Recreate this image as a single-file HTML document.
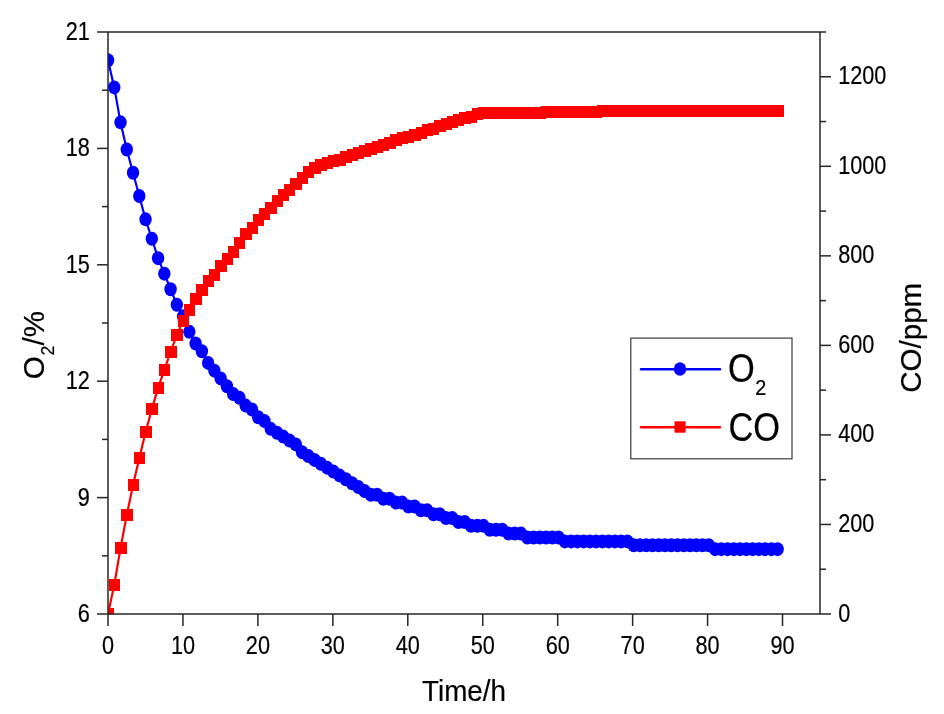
<!DOCTYPE html>
<html lang="en"><head><meta charset="utf-8"><title>O2 and CO versus time</title>
<style>html,body{margin:0;padding:0;background:#fff}svg{display:block}text{font-family:"Liberation Sans",sans-serif;fill:#000;stroke:#000;stroke-width:0.2px}</style>
</head><body>
<svg width="944" height="714" viewBox="0 0 944 714">
<rect width="944" height="714" fill="#ffffff"/>
<defs><clipPath id="plot"><rect x="108.00" y="32.00" width="712.00" height="582.50"/></clipPath></defs>
<g clip-path="url(#plot)">
<polyline points="108.00,60.26 114.26,87.42 120.52,122.34 126.77,149.50 133.03,172.78 139.29,196.06 145.55,219.34 151.81,238.74 158.07,258.14 164.32,273.66 170.58,289.18 176.84,304.70 183.10,316.34 189.36,331.86 195.62,343.50 201.87,351.26 208.13,362.90 214.39,370.66 220.65,378.42 226.91,386.18 233.17,393.94 239.42,397.82 245.68,405.58 251.94,409.46 258.20,417.22 264.46,421.10 270.71,428.86 276.97,432.74 283.23,436.62 289.49,440.50 295.75,444.38 302.01,452.14 308.26,456.02 314.52,459.90 320.78,463.78 327.04,467.66 333.30,471.54 339.56,475.42 345.81,479.30 352.07,483.18 358.33,487.06 364.59,490.94 370.85,494.82 377.10,494.82 383.36,498.70 389.62,498.70 395.88,502.58 402.14,502.58 408.40,506.46 414.65,506.46 420.91,510.34 427.17,510.34 433.43,514.22 439.69,514.22 445.95,518.10 452.20,518.10 458.46,521.98 464.72,521.98 470.98,525.86 477.24,525.86 483.50,525.86 489.75,529.74 496.01,529.74 502.27,529.74 508.53,533.62 514.79,533.62 521.04,533.62 527.30,537.50 533.56,537.50 539.82,537.50 546.08,537.50 552.34,537.50 558.59,537.50 564.85,541.38 571.11,541.38 577.37,541.38 583.63,541.38 589.89,541.38 596.14,541.38 602.40,541.38 608.66,541.38 614.92,541.38 621.18,541.38 627.44,541.38 633.69,545.26 639.95,545.26 646.21,545.26 652.47,545.26 658.73,545.26 664.98,545.26 671.24,545.26 677.50,545.26 683.76,545.26 690.02,545.26 696.28,545.26 702.53,545.26 708.79,545.26 715.05,549.14 721.31,549.14 727.57,549.14 733.83,549.14 740.08,549.14 746.34,549.14 752.60,549.14 758.86,549.14 765.12,549.14 771.38,549.14 777.63,549.14" fill="none" stroke="#0000ff" stroke-width="2.2"/>
<g fill="#0000ff">
<ellipse cx="108.00" cy="60.26" rx="6.2" ry="7"/>
<ellipse cx="114.26" cy="87.42" rx="6.2" ry="7"/>
<ellipse cx="120.52" cy="122.34" rx="6.2" ry="7"/>
<ellipse cx="126.77" cy="149.50" rx="6.2" ry="7"/>
<ellipse cx="133.03" cy="172.78" rx="6.2" ry="7"/>
<ellipse cx="139.29" cy="196.06" rx="6.2" ry="7"/>
<ellipse cx="145.55" cy="219.34" rx="6.2" ry="7"/>
<ellipse cx="151.81" cy="238.74" rx="6.2" ry="7"/>
<ellipse cx="158.07" cy="258.14" rx="6.2" ry="7"/>
<ellipse cx="164.32" cy="273.66" rx="6.2" ry="7"/>
<ellipse cx="170.58" cy="289.18" rx="6.2" ry="7"/>
<ellipse cx="176.84" cy="304.70" rx="6.2" ry="7"/>
<ellipse cx="183.10" cy="316.34" rx="6.2" ry="7"/>
<ellipse cx="189.36" cy="331.86" rx="6.2" ry="7"/>
<ellipse cx="195.62" cy="343.50" rx="6.2" ry="7"/>
<ellipse cx="201.87" cy="351.26" rx="6.2" ry="7"/>
<ellipse cx="208.13" cy="362.90" rx="6.2" ry="7"/>
<ellipse cx="214.39" cy="370.66" rx="6.2" ry="7"/>
<ellipse cx="220.65" cy="378.42" rx="6.2" ry="7"/>
<ellipse cx="226.91" cy="386.18" rx="6.2" ry="7"/>
<ellipse cx="233.17" cy="393.94" rx="6.2" ry="7"/>
<ellipse cx="239.42" cy="397.82" rx="6.2" ry="7"/>
<ellipse cx="245.68" cy="405.58" rx="6.2" ry="7"/>
<ellipse cx="251.94" cy="409.46" rx="6.2" ry="7"/>
<ellipse cx="258.20" cy="417.22" rx="6.2" ry="7"/>
<ellipse cx="264.46" cy="421.10" rx="6.2" ry="7"/>
<ellipse cx="270.71" cy="428.86" rx="6.2" ry="7"/>
<ellipse cx="276.97" cy="432.74" rx="6.2" ry="7"/>
<ellipse cx="283.23" cy="436.62" rx="6.2" ry="7"/>
<ellipse cx="289.49" cy="440.50" rx="6.2" ry="7"/>
<ellipse cx="295.75" cy="444.38" rx="6.2" ry="7"/>
<ellipse cx="302.01" cy="452.14" rx="6.2" ry="7"/>
<ellipse cx="308.26" cy="456.02" rx="6.2" ry="7"/>
<ellipse cx="314.52" cy="459.90" rx="6.2" ry="7"/>
<ellipse cx="320.78" cy="463.78" rx="6.2" ry="7"/>
<ellipse cx="327.04" cy="467.66" rx="6.2" ry="7"/>
<ellipse cx="333.30" cy="471.54" rx="6.2" ry="7"/>
<ellipse cx="339.56" cy="475.42" rx="6.2" ry="7"/>
<ellipse cx="345.81" cy="479.30" rx="6.2" ry="7"/>
<ellipse cx="352.07" cy="483.18" rx="6.2" ry="7"/>
<ellipse cx="358.33" cy="487.06" rx="6.2" ry="7"/>
<ellipse cx="364.59" cy="490.94" rx="6.2" ry="7"/>
<ellipse cx="370.85" cy="494.82" rx="6.2" ry="7"/>
<ellipse cx="377.10" cy="494.82" rx="6.2" ry="7"/>
<ellipse cx="383.36" cy="498.70" rx="6.2" ry="7"/>
<ellipse cx="389.62" cy="498.70" rx="6.2" ry="7"/>
<ellipse cx="395.88" cy="502.58" rx="6.2" ry="7"/>
<ellipse cx="402.14" cy="502.58" rx="6.2" ry="7"/>
<ellipse cx="408.40" cy="506.46" rx="6.2" ry="7"/>
<ellipse cx="414.65" cy="506.46" rx="6.2" ry="7"/>
<ellipse cx="420.91" cy="510.34" rx="6.2" ry="7"/>
<ellipse cx="427.17" cy="510.34" rx="6.2" ry="7"/>
<ellipse cx="433.43" cy="514.22" rx="6.2" ry="7"/>
<ellipse cx="439.69" cy="514.22" rx="6.2" ry="7"/>
<ellipse cx="445.95" cy="518.10" rx="6.2" ry="7"/>
<ellipse cx="452.20" cy="518.10" rx="6.2" ry="7"/>
<ellipse cx="458.46" cy="521.98" rx="6.2" ry="7"/>
<ellipse cx="464.72" cy="521.98" rx="6.2" ry="7"/>
<ellipse cx="470.98" cy="525.86" rx="6.2" ry="7"/>
<ellipse cx="477.24" cy="525.86" rx="6.2" ry="7"/>
<ellipse cx="483.50" cy="525.86" rx="6.2" ry="7"/>
<ellipse cx="489.75" cy="529.74" rx="6.2" ry="7"/>
<ellipse cx="496.01" cy="529.74" rx="6.2" ry="7"/>
<ellipse cx="502.27" cy="529.74" rx="6.2" ry="7"/>
<ellipse cx="508.53" cy="533.62" rx="6.2" ry="7"/>
<ellipse cx="514.79" cy="533.62" rx="6.2" ry="7"/>
<ellipse cx="521.04" cy="533.62" rx="6.2" ry="7"/>
<ellipse cx="527.30" cy="537.50" rx="6.2" ry="7"/>
<ellipse cx="533.56" cy="537.50" rx="6.2" ry="7"/>
<ellipse cx="539.82" cy="537.50" rx="6.2" ry="7"/>
<ellipse cx="546.08" cy="537.50" rx="6.2" ry="7"/>
<ellipse cx="552.34" cy="537.50" rx="6.2" ry="7"/>
<ellipse cx="558.59" cy="537.50" rx="6.2" ry="7"/>
<ellipse cx="564.85" cy="541.38" rx="6.2" ry="7"/>
<ellipse cx="571.11" cy="541.38" rx="6.2" ry="7"/>
<ellipse cx="577.37" cy="541.38" rx="6.2" ry="7"/>
<ellipse cx="583.63" cy="541.38" rx="6.2" ry="7"/>
<ellipse cx="589.89" cy="541.38" rx="6.2" ry="7"/>
<ellipse cx="596.14" cy="541.38" rx="6.2" ry="7"/>
<ellipse cx="602.40" cy="541.38" rx="6.2" ry="7"/>
<ellipse cx="608.66" cy="541.38" rx="6.2" ry="7"/>
<ellipse cx="614.92" cy="541.38" rx="6.2" ry="7"/>
<ellipse cx="621.18" cy="541.38" rx="6.2" ry="7"/>
<ellipse cx="627.44" cy="541.38" rx="6.2" ry="7"/>
<ellipse cx="633.69" cy="545.26" rx="6.2" ry="7"/>
<ellipse cx="639.95" cy="545.26" rx="6.2" ry="7"/>
<ellipse cx="646.21" cy="545.26" rx="6.2" ry="7"/>
<ellipse cx="652.47" cy="545.26" rx="6.2" ry="7"/>
<ellipse cx="658.73" cy="545.26" rx="6.2" ry="7"/>
<ellipse cx="664.98" cy="545.26" rx="6.2" ry="7"/>
<ellipse cx="671.24" cy="545.26" rx="6.2" ry="7"/>
<ellipse cx="677.50" cy="545.26" rx="6.2" ry="7"/>
<ellipse cx="683.76" cy="545.26" rx="6.2" ry="7"/>
<ellipse cx="690.02" cy="545.26" rx="6.2" ry="7"/>
<ellipse cx="696.28" cy="545.26" rx="6.2" ry="7"/>
<ellipse cx="702.53" cy="545.26" rx="6.2" ry="7"/>
<ellipse cx="708.79" cy="545.26" rx="6.2" ry="7"/>
<ellipse cx="715.05" cy="549.14" rx="6.2" ry="7"/>
<ellipse cx="721.31" cy="549.14" rx="6.2" ry="7"/>
<ellipse cx="727.57" cy="549.14" rx="6.2" ry="7"/>
<ellipse cx="733.83" cy="549.14" rx="6.2" ry="7"/>
<ellipse cx="740.08" cy="549.14" rx="6.2" ry="7"/>
<ellipse cx="746.34" cy="549.14" rx="6.2" ry="7"/>
<ellipse cx="752.60" cy="549.14" rx="6.2" ry="7"/>
<ellipse cx="758.86" cy="549.14" rx="6.2" ry="7"/>
<ellipse cx="765.12" cy="549.14" rx="6.2" ry="7"/>
<ellipse cx="771.38" cy="549.14" rx="6.2" ry="7"/>
<ellipse cx="777.63" cy="549.14" rx="6.2" ry="7"/>
</g>
<polyline points="108.00,614.00 114.26,584.90 120.52,548.19 126.77,515.06 133.03,485.06 139.29,458.20 145.55,432.24 151.81,409.40 158.07,387.92 164.32,370.01 170.58,351.65 176.84,335.09 183.10,320.76 189.36,309.57 195.62,299.27 201.87,289.87 208.13,281.36 214.39,274.65 220.65,266.14 226.91,258.98 233.17,251.82 239.42,243.31 245.68,234.36 251.94,228.09 258.20,220.48 264.46,214.21 270.71,207.94 276.97,201.23 283.23,195.41 289.49,190.04 295.75,184.22 302.01,177.95 308.26,172.13 314.52,167.65 320.78,164.52 327.04,162.73 333.30,161.38 339.56,159.59 345.81,157.35 352.07,154.67 358.33,152.88 364.59,151.09 370.85,148.85 377.10,146.61 383.36,144.82 389.62,142.58 395.88,140.34 402.14,138.10 408.40,136.76 414.65,134.52 420.91,132.73 427.17,130.49 433.43,128.70 439.69,126.46 445.95,124.22 452.20,122.43 458.46,120.20 464.72,118.40 470.98,116.61 477.24,114.38 483.50,113.03 489.75,112.58 496.01,112.58 502.27,112.58 508.53,112.58 514.79,112.58 521.04,112.58 527.30,112.58 533.56,112.58 539.82,112.58 546.08,111.69 552.34,111.69 558.59,111.69 564.85,111.69 571.11,111.69 577.37,111.69 583.63,111.69 589.89,111.69 596.14,111.69 602.40,110.53 608.66,110.53 614.92,110.53 621.18,110.53 627.44,110.53 633.69,110.53 639.95,110.53 646.21,110.53 652.47,110.53 658.73,110.53 664.98,110.53 671.24,110.53 677.50,110.53 683.76,110.53 690.02,110.53 696.28,110.53 702.53,110.53 708.79,110.53 715.05,110.53 721.31,110.53 727.57,110.53 733.83,110.53 740.08,110.53 746.34,110.53 752.60,110.53 758.86,110.53 765.12,110.53 771.38,110.53 777.63,110.53" fill="none" stroke="#ff0000" stroke-width="2.2"/>
<g fill="#ff0000" shape-rendering="crispEdges">
<rect x="102.60" y="608.00" width="11.4" height="12.0"/>
<rect x="108.86" y="578.90" width="11.4" height="12.0"/>
<rect x="115.12" y="542.19" width="11.4" height="12.0"/>
<rect x="121.37" y="509.06" width="11.4" height="12.0"/>
<rect x="127.63" y="479.06" width="11.4" height="12.0"/>
<rect x="133.89" y="452.20" width="11.4" height="12.0"/>
<rect x="140.15" y="426.24" width="11.4" height="12.0"/>
<rect x="146.41" y="403.40" width="11.4" height="12.0"/>
<rect x="152.67" y="381.92" width="11.4" height="12.0"/>
<rect x="158.92" y="364.01" width="11.4" height="12.0"/>
<rect x="165.18" y="345.65" width="11.4" height="12.0"/>
<rect x="171.44" y="329.09" width="11.4" height="12.0"/>
<rect x="177.70" y="314.76" width="11.4" height="12.0"/>
<rect x="183.96" y="303.57" width="11.4" height="12.0"/>
<rect x="190.22" y="293.27" width="11.4" height="12.0"/>
<rect x="196.47" y="283.87" width="11.4" height="12.0"/>
<rect x="202.73" y="275.36" width="11.4" height="12.0"/>
<rect x="208.99" y="268.65" width="11.4" height="12.0"/>
<rect x="215.25" y="260.14" width="11.4" height="12.0"/>
<rect x="221.51" y="252.98" width="11.4" height="12.0"/>
<rect x="227.77" y="245.82" width="11.4" height="12.0"/>
<rect x="234.02" y="237.31" width="11.4" height="12.0"/>
<rect x="240.28" y="228.36" width="11.4" height="12.0"/>
<rect x="246.54" y="222.09" width="11.4" height="12.0"/>
<rect x="252.80" y="214.48" width="11.4" height="12.0"/>
<rect x="259.06" y="208.21" width="11.4" height="12.0"/>
<rect x="265.31" y="201.94" width="11.4" height="12.0"/>
<rect x="271.57" y="195.23" width="11.4" height="12.0"/>
<rect x="277.83" y="189.41" width="11.4" height="12.0"/>
<rect x="284.09" y="184.04" width="11.4" height="12.0"/>
<rect x="290.35" y="178.22" width="11.4" height="12.0"/>
<rect x="296.61" y="171.95" width="11.4" height="12.0"/>
<rect x="302.86" y="166.13" width="11.4" height="12.0"/>
<rect x="309.12" y="161.65" width="11.4" height="12.0"/>
<rect x="315.38" y="158.52" width="11.4" height="12.0"/>
<rect x="321.64" y="156.73" width="11.4" height="12.0"/>
<rect x="327.90" y="155.38" width="11.4" height="12.0"/>
<rect x="334.16" y="153.59" width="11.4" height="12.0"/>
<rect x="340.41" y="151.35" width="11.4" height="12.0"/>
<rect x="346.67" y="148.67" width="11.4" height="12.0"/>
<rect x="352.93" y="146.88" width="11.4" height="12.0"/>
<rect x="359.19" y="145.09" width="11.4" height="12.0"/>
<rect x="365.45" y="142.85" width="11.4" height="12.0"/>
<rect x="371.70" y="140.61" width="11.4" height="12.0"/>
<rect x="377.96" y="138.82" width="11.4" height="12.0"/>
<rect x="384.22" y="136.58" width="11.4" height="12.0"/>
<rect x="390.48" y="134.34" width="11.4" height="12.0"/>
<rect x="396.74" y="132.10" width="11.4" height="12.0"/>
<rect x="403.00" y="130.76" width="11.4" height="12.0"/>
<rect x="409.25" y="128.52" width="11.4" height="12.0"/>
<rect x="415.51" y="126.73" width="11.4" height="12.0"/>
<rect x="421.77" y="124.49" width="11.4" height="12.0"/>
<rect x="428.03" y="122.70" width="11.4" height="12.0"/>
<rect x="434.29" y="120.46" width="11.4" height="12.0"/>
<rect x="440.55" y="118.22" width="11.4" height="12.0"/>
<rect x="446.80" y="116.43" width="11.4" height="12.0"/>
<rect x="453.06" y="114.20" width="11.4" height="12.0"/>
<rect x="459.32" y="112.40" width="11.4" height="12.0"/>
<rect x="465.58" y="110.61" width="11.4" height="12.0"/>
<rect x="471.84" y="108.38" width="11.4" height="12.0"/>
<rect x="478.10" y="107.03" width="11.4" height="12.0"/>
<rect x="484.35" y="106.58" width="11.4" height="12.0"/>
<rect x="490.61" y="106.58" width="11.4" height="12.0"/>
<rect x="496.87" y="106.58" width="11.4" height="12.0"/>
<rect x="503.13" y="106.58" width="11.4" height="12.0"/>
<rect x="509.39" y="106.58" width="11.4" height="12.0"/>
<rect x="515.64" y="106.58" width="11.4" height="12.0"/>
<rect x="521.90" y="106.58" width="11.4" height="12.0"/>
<rect x="528.16" y="106.58" width="11.4" height="12.0"/>
<rect x="534.42" y="106.58" width="11.4" height="12.0"/>
<rect x="540.68" y="105.69" width="11.4" height="12.0"/>
<rect x="546.94" y="105.69" width="11.4" height="12.0"/>
<rect x="553.19" y="105.69" width="11.4" height="12.0"/>
<rect x="559.45" y="105.69" width="11.4" height="12.0"/>
<rect x="565.71" y="105.69" width="11.4" height="12.0"/>
<rect x="571.97" y="105.69" width="11.4" height="12.0"/>
<rect x="578.23" y="105.69" width="11.4" height="12.0"/>
<rect x="584.49" y="105.69" width="11.4" height="12.0"/>
<rect x="590.74" y="105.69" width="11.4" height="12.0"/>
<rect x="597.00" y="104.53" width="11.4" height="12.0"/>
<rect x="603.26" y="104.53" width="11.4" height="12.0"/>
<rect x="609.52" y="104.53" width="11.4" height="12.0"/>
<rect x="615.78" y="104.53" width="11.4" height="12.0"/>
<rect x="622.04" y="104.53" width="11.4" height="12.0"/>
<rect x="628.29" y="104.53" width="11.4" height="12.0"/>
<rect x="634.55" y="104.53" width="11.4" height="12.0"/>
<rect x="640.81" y="104.53" width="11.4" height="12.0"/>
<rect x="647.07" y="104.53" width="11.4" height="12.0"/>
<rect x="653.33" y="104.53" width="11.4" height="12.0"/>
<rect x="659.58" y="104.53" width="11.4" height="12.0"/>
<rect x="665.84" y="104.53" width="11.4" height="12.0"/>
<rect x="672.10" y="104.53" width="11.4" height="12.0"/>
<rect x="678.36" y="104.53" width="11.4" height="12.0"/>
<rect x="684.62" y="104.53" width="11.4" height="12.0"/>
<rect x="690.88" y="104.53" width="11.4" height="12.0"/>
<rect x="697.13" y="104.53" width="11.4" height="12.0"/>
<rect x="703.39" y="104.53" width="11.4" height="12.0"/>
<rect x="709.65" y="104.53" width="11.4" height="12.0"/>
<rect x="715.91" y="104.53" width="11.4" height="12.0"/>
<rect x="722.17" y="104.53" width="11.4" height="12.0"/>
<rect x="728.43" y="104.53" width="11.4" height="12.0"/>
<rect x="734.68" y="104.53" width="11.4" height="12.0"/>
<rect x="740.94" y="104.53" width="11.4" height="12.0"/>
<rect x="747.20" y="104.53" width="11.4" height="12.0"/>
<rect x="753.46" y="104.53" width="11.4" height="12.0"/>
<rect x="759.72" y="104.53" width="11.4" height="12.0"/>
<rect x="765.98" y="104.53" width="11.4" height="12.0"/>
<rect x="772.23" y="104.53" width="11.4" height="12.0"/>
</g>
</g>
<g stroke="#262626" stroke-width="1.50" fill="none" stroke-linecap="butt">
<path d="M97.00 32.00 H826.00"/>
<path d="M97.00 614.00 H831.00"/>
<path d="M108.00 32.00 V626.00"/>
<path d="M820.00 32.00 V614.00"/>
<path d="M97.00 497.60 H108.00"/>
<path d="M97.00 381.20 H108.00"/>
<path d="M97.00 264.80 H108.00"/>
<path d="M97.00 148.40 H108.00"/>
<path d="M102.00 555.80 H108.00"/>
<path d="M102.00 439.40 H108.00"/>
<path d="M102.00 323.00 H108.00"/>
<path d="M102.00 206.60 H108.00"/>
<path d="M102.00 90.20 H108.00"/>
<path d="M820.00 524.46 H831.00"/>
<path d="M820.00 434.92 H831.00"/>
<path d="M820.00 345.38 H831.00"/>
<path d="M820.00 255.85 H831.00"/>
<path d="M820.00 166.31 H831.00"/>
<path d="M820.00 76.77 H831.00"/>
<path d="M820.00 569.23 H826.00"/>
<path d="M820.00 479.69 H826.00"/>
<path d="M820.00 390.15 H826.00"/>
<path d="M820.00 300.62 H826.00"/>
<path d="M820.00 211.08 H826.00"/>
<path d="M820.00 121.54 H826.00"/>
<path d="M182.95 614.00 V626.00"/>
<path d="M257.89 614.00 V626.00"/>
<path d="M332.84 614.00 V626.00"/>
<path d="M407.79 614.00 V626.00"/>
<path d="M482.74 614.00 V626.00"/>
<path d="M557.68 614.00 V626.00"/>
<path d="M632.63 614.00 V626.00"/>
<path d="M707.58 614.00 V626.00"/>
<path d="M782.53 614.00 V626.00"/>
</g>
<text transform="translate(89.80 622.00) scale(0.850 1)" font-size="25.5" text-anchor="end">6</text>
<text transform="translate(89.80 505.60) scale(0.850 1)" font-size="25.5" text-anchor="end">9</text>
<text transform="translate(89.80 389.20) scale(0.850 1)" font-size="25.5" text-anchor="end">12</text>
<text transform="translate(89.80 272.80) scale(0.850 1)" font-size="25.5" text-anchor="end">15</text>
<text transform="translate(89.80 156.40) scale(0.850 1)" font-size="25.5" text-anchor="end">18</text>
<text transform="translate(89.80 40.00) scale(0.850 1)" font-size="25.5" text-anchor="end">21</text>
<text transform="translate(838.20 621.50) scale(0.850 1)" font-size="25.5" text-anchor="start">0</text>
<text transform="translate(838.20 531.96) scale(0.850 1)" font-size="25.5" text-anchor="start">200</text>
<text transform="translate(838.20 442.42) scale(0.850 1)" font-size="25.5" text-anchor="start">400</text>
<text transform="translate(838.20 352.88) scale(0.850 1)" font-size="25.5" text-anchor="start">600</text>
<text transform="translate(838.20 263.35) scale(0.850 1)" font-size="25.5" text-anchor="start">800</text>
<text transform="translate(838.20 173.81) scale(0.850 1)" font-size="25.5" text-anchor="start">1000</text>
<text transform="translate(838.20 84.27) scale(0.850 1)" font-size="25.5" text-anchor="start">1200</text>
<text transform="translate(108.00 653.50) scale(0.850 1)" font-size="25.5" text-anchor="middle">0</text>
<text transform="translate(182.95 653.50) scale(0.850 1)" font-size="25.5" text-anchor="middle">10</text>
<text transform="translate(257.89 653.50) scale(0.850 1)" font-size="25.5" text-anchor="middle">20</text>
<text transform="translate(332.84 653.50) scale(0.850 1)" font-size="25.5" text-anchor="middle">30</text>
<text transform="translate(407.79 653.50) scale(0.850 1)" font-size="25.5" text-anchor="middle">40</text>
<text transform="translate(482.74 653.50) scale(0.850 1)" font-size="25.5" text-anchor="middle">50</text>
<text transform="translate(557.68 653.50) scale(0.850 1)" font-size="25.5" text-anchor="middle">60</text>
<text transform="translate(632.63 653.50) scale(0.850 1)" font-size="25.5" text-anchor="middle">70</text>
<text transform="translate(707.58 653.50) scale(0.850 1)" font-size="25.5" text-anchor="middle">80</text>
<text transform="translate(782.53 653.50) scale(0.850 1)" font-size="25.5" text-anchor="middle">90</text>
<text transform="translate(464 701) scale(0.95 1)" font-size="29.3" text-anchor="middle">Time/h</text>
<g transform="translate(44.4 378) rotate(-90)">
<text transform="translate(-1.2 0) scale(1.02 1)" font-size="29">O</text>
<text transform="translate(22.6 9.3) scale(1.02 1)" font-size="17.5">2</text>
<text transform="translate(32.5 0) scale(1.02 1)" font-size="29">/%</text>
</g>
<text transform="translate(921 337.8) rotate(-90) scale(1.02 1)" font-size="29" text-anchor="middle">CO/ppm</text>
<rect x="630.8" y="338.1" width="161.2" height="120.7" fill="#fff" stroke="#3a3a3a" stroke-width="1.2"/>
<path d="M641 369.2 H720" stroke="#0000ff" stroke-width="2.4" stroke-linecap="round"/>
<ellipse cx="680" cy="369" rx="6.2" ry="6.8" fill="#0000ff"/>
<path d="M641 427.2 H720" stroke="#ff0000" stroke-width="2.4" stroke-linecap="round"/>
<rect x="674.5" y="421.3" width="11.1" height="11.4" fill="#ff0000"/>
<text transform="translate(728 382.3) scale(0.84 1)" font-size="41" text-anchor="start">O</text>
<text transform="translate(755.3 395.4) scale(0.88 1)" font-size="22.5" text-anchor="start">2</text>
<text transform="translate(728.4 440.8) scale(0.84 1)" font-size="41" text-anchor="start">CO</text>
</svg></body></html>
